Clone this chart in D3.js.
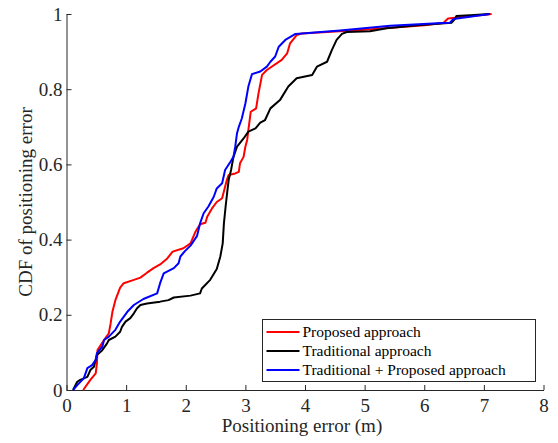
<!DOCTYPE html>
<html>
<head>
<meta charset="utf-8">
<script src="https://cdn.jsdelivr.net/npm/d3@7"></script>
<style>
  body { margin: 0; background: #fff; }
  svg { display: block; font-family: "Liberation Serif", "Times New Roman", serif; }
</style>
</head>
<body>
<div id="chart"></div>
<script>
// CDF points: [positioning error (m), CDF]
var proposed = [[0.28,0],[0.40,0.027],[0.49,0.044],[0.51,0.071],[0.52,0.106],[0.63,0.133],[0.71,0.151],[0.74,0.177],[0.77,0.208],[0.82,0.239],[0.90,0.272],[0.96,0.284],[1.13,0.293],[1.24,0.299],[1.35,0.312],[1.46,0.324],[1.57,0.334],[1.69,0.35],[1.78,0.368],[1.96,0.377],[2.08,0.39],[2.16,0.42],[2.24,0.441],[2.33,0.445],[2.36,0.461],[2.44,0.483],[2.52,0.50],[2.61,0.51],[2.69,0.559],[2.72,0.572],[2.83,0.576],[2.89,0.58],[2.91,0.603],[2.97,0.62],[3.00,0.647],[3.03,0.665],[3.05,0.691],[3.09,0.74],[3.18,0.749],[3.22,0.789],[3.28,0.838],[3.36,0.851],[3.61,0.878],[3.70,0.895],[3.75,0.922],[3.86,0.944],[3.95,0.948],[5.0,0.958],[6.0,0.97],[6.32,0.976],[6.4,0.988],[7.13,1]];
var traditional = [[0.11,0],[0.18,0.022],[0.23,0.027],[0.35,0.035],[0.40,0.053],[0.46,0.062],[0.51,0.093],[0.60,0.106],[0.68,0.124],[0.71,0.133],[0.82,0.142],[0.90,0.155],[0.93,0.168],[0.99,0.182],[1.07,0.191],[1.13,0.204],[1.18,0.217],[1.24,0.226],[1.35,0.23],[1.57,0.235],[1.71,0.239],[1.80,0.246],[2.08,0.251],[2.24,0.257],[2.27,0.27],[2.41,0.293],[2.52,0.322],[2.58,0.355],[2.62,0.39],[2.64,0.443],[2.67,0.49],[2.70,0.532],[2.72,0.559],[2.76,0.585],[2.80,0.62],[2.86,0.647],[2.97,0.669],[3.05,0.687],[3.17,0.696],[3.25,0.711],[3.33,0.718],[3.42,0.749],[3.58,0.771],[3.72,0.807],[3.86,0.829],[4.12,0.838],[4.20,0.86],[4.37,0.873],[4.45,0.904],[4.53,0.931],[4.62,0.947],[4.70,0.952],[5.09,0.954],[5.37,0.962],[5.93,0.971],[6.46,0.977],[6.52,0.988],[6.54,0.995],[6.77,0.997],[7.1,1]];
var combined = [[0.11,0],[0.18,0.013],[0.29,0.031],[0.35,0.058],[0.43,0.066],[0.49,0.08],[0.51,0.098],[0.60,0.115],[0.63,0.133],[0.71,0.142],[0.82,0.16],[0.90,0.182],[1.02,0.208],[1.13,0.226],[1.29,0.242],[1.52,0.257],[1.57,0.284],[1.63,0.31],[1.80,0.324],[1.88,0.337],[1.91,0.355],[1.99,0.37],[2.08,0.384],[2.19,0.41],[2.24,0.443],[2.30,0.47],[2.38,0.488],[2.47,0.514],[2.52,0.536],[2.61,0.55],[2.66,0.585],[2.75,0.607],[2.80,0.62],[2.83,0.647],[2.86,0.683],[2.89,0.70],[2.94,0.722],[3.00,0.762],[3.05,0.807],[3.11,0.84],[3.25,0.847],[3.36,0.86],[3.42,0.873],[3.50,0.887],[3.56,0.913],[3.67,0.931],[3.84,0.947],[4.59,0.956],[5.43,0.969],[6.3,0.976],[6.43,0.977],[6.49,0.987],[7.1,1]];

var seriesNames = ["Proposed approach", "Traditional approach", "Traditional + Proposed approach"];
var seriesColors = ["#ff0000", "#000000", "#0000ff"];
var xTicks = [0, 1, 2, 3, 4, 5, 6, 7, 8];
var yTicks = [0, 0.2, 0.4, 0.6, 0.8, 1];

var W = 558, H = 443;
var margin = {top: 14, right: 14.5, bottom: 53, left: 66.5};

var svg = d3.select("#chart").append("svg")
  .attr("width", W)
  .attr("height", H);

var x = d3.scaleLinear().domain([0, 8]).range([margin.left, W - margin.right]);
var y = d3.scaleLinear().domain([0, 1]).range([H - margin.bottom, margin.top]);

var axisColor = "#262626";

// x axis, ticks pointing inward
var gx = svg.append("g")
  .attr("transform", "translate(0," + y(0) + ")")
  .call(d3.axisBottom(x).tickValues(xTicks).tickSizeInner(-5).tickSizeOuter(0).tickPadding(9).tickFormat(d3.format("d")));
gx.attr("font-family", "Liberation Serif").attr("font-size", 19);
gx.select(".domain").attr("stroke", axisColor);
gx.selectAll(".tick line").attr("stroke", axisColor);
gx.selectAll(".tick text").attr("fill", axisColor);

// y axis
var gy = svg.append("g")
  .attr("transform", "translate(" + x(0) + ",0)")
  .call(d3.axisLeft(y).tickValues(yTicks).tickSizeInner(-5).tickSizeOuter(0).tickPadding(4).tickFormat(function(d) { return d3.format("")(d); }));
gy.attr("font-family", "Liberation Serif").attr("font-size", 19);
gy.select(".domain").attr("stroke", axisColor);
gy.selectAll(".tick line").attr("stroke", axisColor);
gy.selectAll(".tick text").attr("fill", axisColor);

// axis labels
svg.append("text")
  .attr("x", (x(0) + x(8)) / 2 - 3)
  .attr("y", 432)
  .attr("text-anchor", "middle")
  .attr("font-size", 19)
  .attr("fill", axisColor)
  .text("Positioning error (m)");
svg.append("text")
  .attr("transform", "translate(32," + ((y(0) + y(1)) / 2) + ") rotate(-90)")
  .attr("text-anchor", "middle")
  .attr("font-size", 19)
  .attr("fill", axisColor)
  .text("CDF of positioning error");

// curves
var line = d3.line()
  .x(function(d) { return x(d[0]); })
  .y(function(d) { return y(d[1]); });

[proposed, traditional, combined].forEach(function(data, i) {
  svg.append("path")
    .datum(data)
    .attr("fill", "none")
    .attr("stroke", seriesColors[i])
    .attr("stroke-width", 2)
    .attr("stroke-linejoin", "round")
    .attr("d", line);
});

// legend
var legend = svg.append("g").attr("transform", "translate(262.5,319.5)");
legend.append("rect")
  .attr("width", 273)
  .attr("height", 62)
  .attr("fill", "#fff")
  .attr("stroke", axisColor)
  .attr("stroke-width", 1);
seriesNames.forEach(function(name, i) {
  var row = legend.append("g").attr("transform", "translate(0," + (12.5 + i * 19) + ")");
  row.append("line")
    .attr("x1", 4).attr("x2", 37)
    .attr("y1", 0).attr("y2", 0)
    .attr("stroke", seriesColors[i])
    .attr("stroke-width", 2);
  row.append("text")
    .attr("x", 40)
    .attr("y", 5)
    .attr("font-size", 15.5)
    .attr("fill", "#000")
    .text(name);
});
</script>
</body>
</html>
